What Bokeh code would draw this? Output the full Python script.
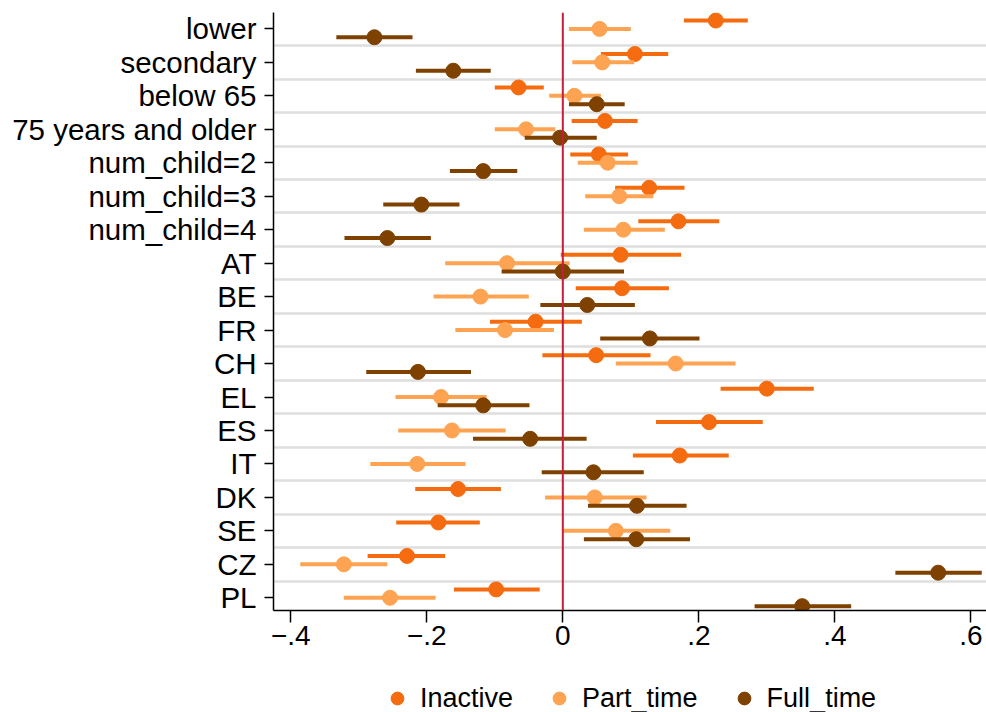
from bokeh.plotting import figure
from bokeh.models import (Range1d, FixedTicker, Span, Legend, LegendItem,
                          ColumnDataSource)
from bokeh.layouts import column
from bokeh.transform import dodge
from bokeh.embed import file_html
from bokeh.resources import INLINE

categories = ["lower", "secondary", "below 65", "75 years and older",
              "num_child=2", "num_child=3", "num_child=4", "AT", "BE", "FR",
              "CH", "EL", "ES", "IT", "DK", "SE", "CZ", "PL"]

inactive_b  = [0.225, 0.106, -0.065, 0.062, 0.053, 0.127, 0.170, 0.085, 0.087, -0.040,
               0.049, 0.300, 0.215, 0.172, -0.154, -0.183, -0.229, -0.098]
inactive_lo = [0.178, 0.056, -0.100, 0.013, 0.011, 0.077, 0.111, -0.003, 0.019, -0.107,
               -0.030, 0.232, 0.137, 0.103, -0.217, -0.245, -0.287, -0.160]
inactive_hi = [0.272, 0.155, -0.028, 0.110, 0.096, 0.179, 0.230, 0.174, 0.156, 0.028,
               0.129, 0.369, 0.294, 0.244, -0.091, -0.122, -0.173, -0.034]

part_b  = [0.054, 0.058, 0.017, -0.054, 0.066, 0.083, 0.089, -0.082, -0.121, -0.085,
           0.166, -0.179, -0.163, -0.214, 0.047, 0.078, -0.322, -0.254]
part_lo = [0.009, 0.014, -0.020, -0.100, 0.022, 0.033, 0.031, -0.173, -0.190, -0.158,
           0.078, -0.246, -0.242, -0.283, -0.026, 0.000, -0.386, -0.322]
part_hi = [0.100, 0.105, 0.056, -0.011, 0.110, 0.133, 0.150, 0.010, -0.050, -0.013,
           0.254, -0.112, -0.084, -0.143, 0.123, 0.158, -0.258, -0.187]

full_b  = [-0.277, -0.161, 0.050, -0.004, -0.117, -0.208, -0.258, 0.000, 0.036, 0.128,
           -0.213, -0.117, -0.048, 0.045, 0.109, 0.108, 0.552, 0.352]
full_lo = [-0.333, -0.216, 0.009, -0.056, -0.166, -0.264, -0.321, -0.090, -0.033, 0.055,
           -0.289, -0.184, -0.132, -0.031, 0.037, 0.031, 0.489, 0.282]
full_hi = [-0.221, -0.106, 0.091, 0.050, -0.067, -0.152, -0.194, 0.090, 0.106, 0.201,
           -0.135, -0.049, 0.035, 0.119, 0.182, 0.187, 0.616, 0.424]

x_ticks = [-0.4, -0.2, 0.0, 0.2, 0.4, 0.6]
x_tick_labels = ["\u2212.4", "\u2212.2", "0", ".2", ".4", ".6"]

series = [
    ("Inactive", inactive_b, inactive_lo, inactive_hi, "#F46C0F", -0.25),
    ("Part_time", part_b, part_lo, part_hi, "#FDA352", 0.0),
    ("Full_time", full_b, full_lo, full_hi, "#7E4100", 0.25),
]

FONT = "Liberation Sans"
n = len(categories)
pos = list(range(n))

p = figure(width=986, height=662, output_backend="svg", toolbar_location=None,
           x_range=Range1d(-0.4254, 0.623), y_range=Range1d(n - 1 + 0.38, -0.49),
           min_border_left=273, min_border_right=0, min_border_top=12,
           min_border_bottom=52)
p.outline_line_color = None
p.background_fill_color = "white"
p.border_fill_color = "white"

# grid lines between categories
p.xgrid.visible = False
p.ygrid.ticker = FixedTicker(ticks=[i + 0.5 for i in range(n - 1)])
p.ygrid.grid_line_color = "#DEDEDE"
p.ygrid.grid_line_width = 2.5

# axes
p.yaxis.ticker = FixedTicker(ticks=pos)
p.yaxis.major_label_overrides = {i: c for i, c in enumerate(categories)}
p.xaxis.ticker = FixedTicker(ticks=x_ticks)
p.xaxis.major_label_overrides = {t: l for t, l in zip(x_ticks, x_tick_labels)}
for ax in (p.xaxis, p.yaxis):
    ax.axis_line_color = "black"
    ax.axis_line_width = 1.5
    ax.major_tick_line_color = "black"
    ax.major_tick_line_width = 1.5
    ax.major_tick_in = 0
    ax.minor_tick_line_color = None
    ax.major_label_text_font = FONT
    ax.major_label_text_color = "black"
p.yaxis.major_tick_out = 9
p.yaxis.major_label_standoff = 8
p.yaxis.major_label_text_font_size = "29.5px"
p.xaxis.major_tick_out = 12
p.xaxis.major_label_standoff = 3
p.xaxis.major_label_text_font_size = "28px"

# zero reference line
p.add_layout(Span(location=0, dimension="height", line_color="#C41E3A",
                  line_width=2))

sources = []
for name, b, lo, hi, color, off in series:
    src = ColumnDataSource(dict(y=pos, b=b, lo=lo, hi=hi))
    sources.append(src)
    p.segment(x0="lo", x1="hi", y0=dodge("y", off), y1=dodge("y", off),
              source=src, line_color=color, line_width=4)
    p.scatter(x="b", y=dodge("y", off), source=src, size=15,
              fill_color=color, line_color=color, marker="circle")

# legend strip below the chart (its own view shows no data, only the legend)
lg = figure(width=986, height=50, output_backend="svg", toolbar_location=None,
            x_range=Range1d(-0.4254, 0.623), y_range=Range1d(100, 101),
            x_axis_type=None, y_axis_type=None,
            min_border_left=0, min_border_right=0, min_border_top=0,
            min_border_bottom=0)
lg.outline_line_color = None
lg.xgrid.visible = False
lg.ygrid.visible = False
items = []
for (name, b, lo, hi, color, off), src in zip(series, sources):
    r = lg.scatter(x="b", y="y", source=src, size=15, fill_color=color,
                   line_color=color, marker="circle")
    items.append(LegendItem(label=name, renderers=[r]))
legend = Legend(items=items, orientation="horizontal", location=(108, -2),
                label_text_font=FONT, label_text_font_size="27px",
                label_text_color="black", glyph_width=32, glyph_height=32,
                label_standoff=7, spacing=30, padding=0, margin=0,
                border_line_color=None, background_fill_alpha=0)
lg.add_layout(legend, "center")

layout = column(p, lg, spacing=0)
open("out.html", "w").write(file_html(layout, INLINE))
